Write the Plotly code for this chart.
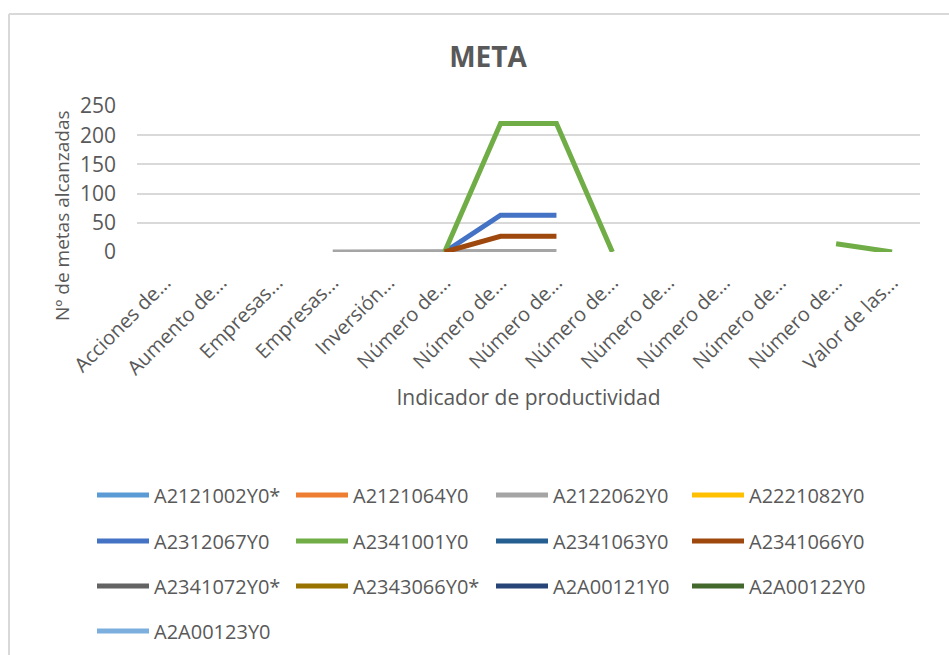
import plotly.graph_objects as go

W, H = 949, 655

categories = ["Acciones de...", "Aumento de...", "Empresas...", "Empresas...",
              "Inversión...", "Número de...", "Número de...", "Número de...",
              "Número de...", "Número de...", "Número de...", "Número de...",
              "Número de...", "Valor de las..."]

series_names = ["A2121002Y0*", "A2121064Y0", "A2122062Y0", "A2221082Y0",
                "A2312067Y0", "A2341001Y0", "A2341063Y0", "A2341066Y0",
                "A2341072Y0*", "A2343066Y0*", "A2A00121Y0", "A2A00122Y0",
                "A2A00123Y0"]

N = None
series_values = [
    [N] * 14,
    [N] * 14,
    [N, N, N, 0, 1, 1, 1, 1, N, N, N, N, N, N],
    [N] * 14,
    [N, N, N, N, N, 0, 63, 63, N, N, N, N, N, N],
    [N, N, N, N, N, 0, 220, 220, 0, N, N, N, 14, 0],
    [N] * 14,
    [N, N, N, N, N, 0, 27, 27, N, N, N, N, N, N],
    [N] * 14,
    [N] * 14,
    [N] * 14,
    [N] * 14,
    [N] * 14,
]

colors = ["#5B9BD5", "#ED7D31", "#A5A5A5", "#FFC000", "#4472C4", "#70AD47",
          "#255E91", "#9E480E", "#636363", "#997300", "#264478", "#43682B",
          "#7CAFDD"]

x_idx = list(range(len(categories)))

font_col = "#595959"
FONT = "Open Sans"

# legend grid: 4 columns, one small legend per entry
col_x = [92, 291, 491, 687]
row_y = [495, 541, 586, 631]

fig = go.Figure()
legend_cfg = {}
for i, (name, vals) in enumerate(zip(series_names, series_values)):
    lid = "legend" if i == 0 else f"legend{i + 1}"
    fig.add_trace(go.Scatter(
        x=x_idx, y=vals, mode="lines", name=name,
        line=dict(color=colors[i], width=5),
        legend=lid, showlegend=True,
        connectgaps=False,
    ))
    legend_cfg[lid] = dict(
        orientation="h", xref="container", yref="container",
        x=col_x[i % 4] / W, y=1 - row_y[i // 4] / H,
        xanchor="left", yanchor="middle", itemwidth=52,
        font=dict(family=FONT, size=20, color=font_col),
        bgcolor="rgba(0,0,0,0)",
    )

pw = W - 137 - 29
ph = H - 106 - 403

fig.update_layout(
    width=W, height=H, showlegend=True,
    paper_bgcolor="white", plot_bgcolor="white",
    margin=dict(l=137, r=29, t=106, b=403),
    title=dict(text="<b>META</b>", x=488 / W, xref="container", xanchor="center",
               y=1 - 57 / H, yref="container", yanchor="middle",
               font=dict(family=FONT, size=28, color=font_col)),
    xaxis=dict(
        range=[-0.5, 13.5], tickmode="array", tickvals=x_idx, ticktext=categories,
        tickangle=-45, showgrid=False, zeroline=False, showline=False,
        ticklabelstandoff=14,
        tickfont=dict(family=FONT, size=20, color=font_col),
        title=dict(text="Indicador de productividad", standoff=10,
                   font=dict(family=FONT, size=21, color=font_col)),
        automargin=False,
    ),
    yaxis=dict(
        range=[0, 250], dtick=50, showgrid=True, gridcolor="#D9D9D9", gridwidth=1.5,
        zeroline=False, showline=False, ticklabelstandoff=20,
        tickfont=dict(family=FONT, size=21, color=font_col),
        automargin=False,
    ),
    **legend_cfg,
)

# y axis title, placed like the original (centred a bit below the plot centre)
fig.add_annotation(text="Nº de metas alcanzadas", textangle=-90, showarrow=False,
                   xref="paper", yref="paper",
                   x=(62 - 137) / pw, y=(H - 403 - 216) / ph,
                   xanchor="center", yanchor="middle",
                   font=dict(family=FONT, size=19, color=font_col))

# chart frame (left and top edges visible)
fx = (9 - 137) / pw
fy = 1 + (106 - 14) / ph
fig.add_shape(type="line", xref="paper", yref="paper", x0=fx, x1=fx, y0=-5, y1=fy,
              line=dict(color="#D9D9D9", width=2))
fig.add_shape(type="line", xref="paper", yref="paper", x0=fx, x1=2, y0=fy, y1=fy,
              line=dict(color="#D9D9D9", width=2))

fig.write_html("out.html", config={"displayModeBar": False},
               post_script="document.body.style.margin='0';")
